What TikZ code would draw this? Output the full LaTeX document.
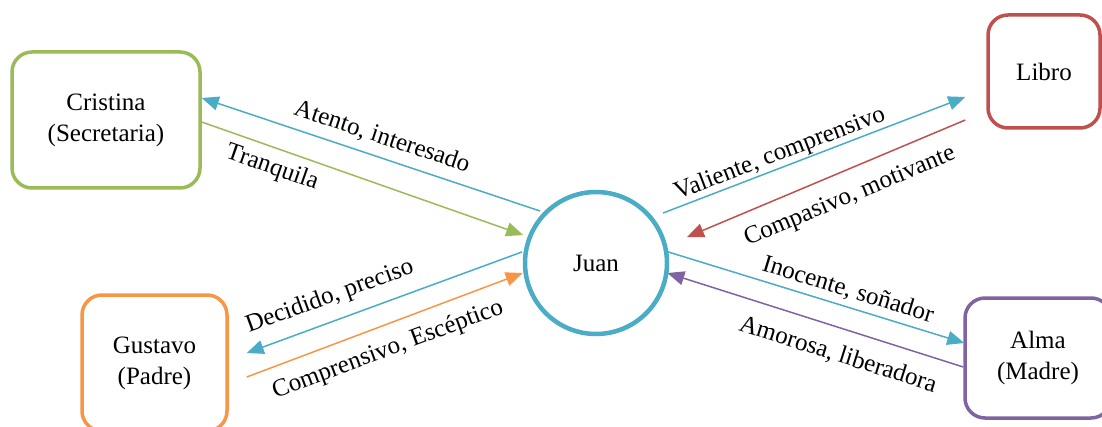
\documentclass[tikz,border=0pt]{standalone}
\usepackage{fontspec}
\setmainfont{Liberation Serif}
\usetikzlibrary{arrows.meta,calc}
\definecolor{cgreen}{HTML}{9BBB59}
\definecolor{cblue}{HTML}{4BACC6}
\definecolor{cred}{HTML}{C0504D}
\definecolor{corange}{HTML}{F79646}
\definecolor{cpurple}{HTML}{8064A2}
\begin{document}
\begin{tikzpicture}[x=1pt,y=1pt,
  box/.style={draw, line width=3.5pt, rounded corners=20pt, align=center,
    font=\fontsize{25}{31}\selectfont, inner sep=0pt},
  con/.style={line width=1.5pt, -{Triangle[length=17pt,width=14pt]}},
  lbl/.style={font=\fontsize{25}{30}\selectfont, inner sep=0pt}]
\useasboundingbox (0,0) rectangle (1102,426);
\fill[white] (0,0) rectangle (1102,426);

% nodes
\node[box, draw=cgreen, minimum width=188pt, minimum height=136pt] (cristina) at (106,306) {Cristina\\(Secretaria)};
\node[box, draw=cred, minimum width=112pt, minimum height=113pt] (libro) at (1044,354.5) {Libro};
\node[box, draw=corange, minimum width=145pt, minimum height=136pt] (gustavo) at (154.5,63) {Gustavo\\(Padre)};
\node[box, draw=cpurple, minimum width=146pt, minimum height=120pt] (alma) at (1038,68) {Alma\\(Madre)};
\node[draw=cblue, circle, line width=4.5pt, minimum size=142pt, inner sep=0pt,
  font=\fontsize{25}{30}\selectfont] (juan) at (596,163) {Juan};

% connectors
\draw[con, cblue]   ($(juan)+(137.1:76.4)$) -- ([yshift=22pt]cristina.east);
\draw[con, cgreen]  ([yshift=-2pt]cristina.east) -- ($(juan)+(159:78)$);
\draw[con, cblue]   ($(juan)+(36.7:83.6)$) -- ($(libro.west)+(-21,-25.5)$);
\draw[con, cred]    ($(libro.west)+(-21,-48.5)$) -- ($(juan)+(15.9:94.6)$);
\draw[con, cblue]   ($(juan)+(171.5:74.8)$) -- ($(gustavo.east)+(18,10)$);
\draw[con, corange] ($(gustavo.east)+(18,-14)$) -- ($(juan)+(187.8:74)$);
\draw[con, cblue]   ($(juan)+(9.9:70)$) -- ($(alma.west)+(1,15)$);
\draw[con, cpurple] ($(alma.west)+(0,-9)$) -- ($(juan)+(-8:72)$);

% labels
\node[lbl, rotate=-18.3] (l1) at (382,289) {Atento, interesado};
\node[lbl, rotate=-19.3] (l2) at (272,258) {Tranquila};
\node[lbl, rotate=20.9]  (l3) at (780,272) {Valiente, comprensivo};
\node[lbl, rotate=22.7]  (l4) at (850,229) {Compasivo, motivante};
\node[lbl, rotate=20]    (l5) at (330,129) {Decidido, preciso};
\node[lbl, rotate=20.5]  (l6) at (388,76)  {Comprensivo, Escéptico};
\node[lbl, rotate=-17]   (l7) at (848,136) {Inocente, soñador};
\node[lbl, rotate=-17.5] (l8) at (838,71)  {Amorosa, liberadora};
\end{tikzpicture}
\end{document}
